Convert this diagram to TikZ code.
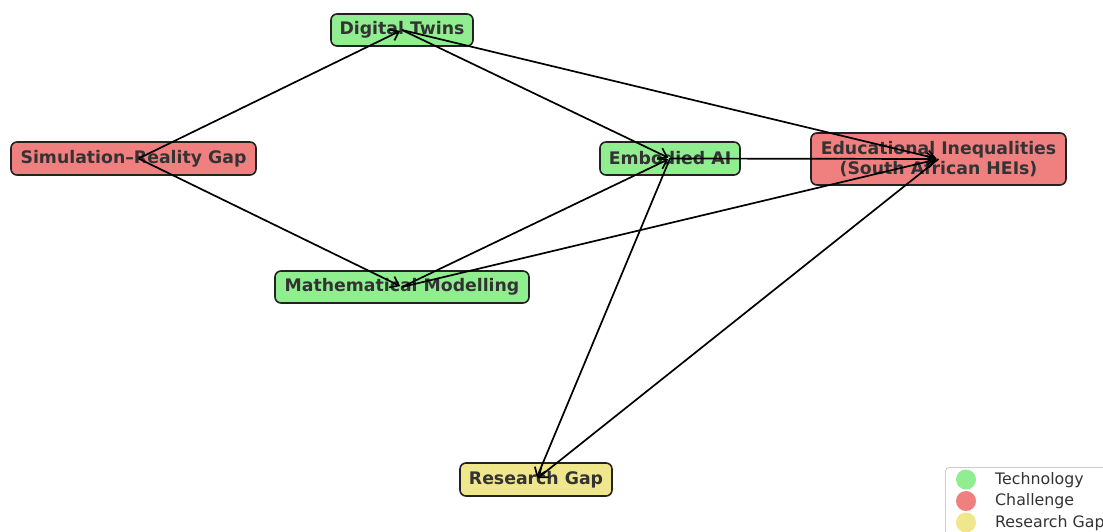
\documentclass[tikz,border=0pt]{standalone}
\usepackage{fontspec}
\setmainfont{DejaVu Sans}
\usetikzlibrary{arrows.meta}
\definecolor{techc}{HTML}{90EE90}
\definecolor{chalc}{HTML}{F08080}
\definecolor{gapc}{HTML}{F0E68C}
\definecolor{txtc}{HTML}{333333}
\definecolor{edgec}{HTML}{222222}
\tikzset{
  box/.style={draw=edgec, line width=1.6pt, rounded corners=6pt, inner sep=0pt,
    font=\fontsize{17.3}{19.5}\selectfont\bfseries, text=txtc, align=center},
  tech/.style={box, fill=techc},
  chal/.style={box, fill=chalc},
  rgap/.style={box, fill=gapc},
  link/.style={draw=black, line width=1.7pt, -{Straight Barb[length=8pt,width=12pt,line width=1.7pt]}, shorten >=2pt},
  legdot/.style={circle, inner sep=0pt, minimum size=20pt},
  legtxt/.style={anchor=west, inner sep=0pt, font=\fontsize{15.8}{17}\selectfont, text=txtc}
}
\begin{document}
\begin{tikzpicture}[x=1pt,y=-1pt]
\useasboundingbox (0,0) rectangle (1103,531);
\node[chal, minimum width=245pt, minimum height=33pt] (sim) at (133.5,158.5) {Simulation–Reality Gap};
\node[tech, minimum width=142pt, minimum height=32pt] (dt) at (402,30) {Digital Twins};
\node[tech, minimum width=140pt, minimum height=33pt] (ea) at (670,158.5) {Embodied AI};
\node[chal, minimum width=255pt, minimum height=52pt] (ei) at (938.5,159) {Educational Inequalities\\(South African HEIs)};
\node[tech, minimum width=254pt, minimum height=32pt] (mm) at (402,287) {Mathematical Modelling};
\node[rgap, minimum width=152pt, minimum height=33pt] (rg) at (536,479.5) {Research Gap};

\draw[link] ([xshift=5pt]sim.center) -- (dt.center);
\draw[link] ([xshift=5pt]sim.center) -- (mm.center);
\draw[link] (dt.center) -- (ea.center);
\draw[link] (dt.center) -- (ei.center);
\draw[link] (ea.center) -- (ei.center);
\draw[link] (ea.center) -- (rg.center);
\draw[link] (mm.center) -- (ea.center);
\draw[link] (mm.center) -- (ei.center);
\draw[link] (ei.center) -- (rg.center);

\node[draw=black!20, fill=white, rounded corners=4pt, line width=0.8pt, minimum width=170pt, minimum height=80pt, anchor=north west] (leg) at (945,467) {};
\node[legdot, fill=techc] (d1) at (966,479.5) {};
\node[legdot, fill=chalc] (d2) at (966,501) {};
\node[legdot, fill=gapc] (d3) at (966,522.5) {};
\node[legtxt] (t1) at (995,480) {Technology};
\node[legtxt] (t2) at (995,501.5) {Challenge};
\node[legtxt] (t3) at (995,523) {Research Gap};
\end{tikzpicture}
\end{document}
